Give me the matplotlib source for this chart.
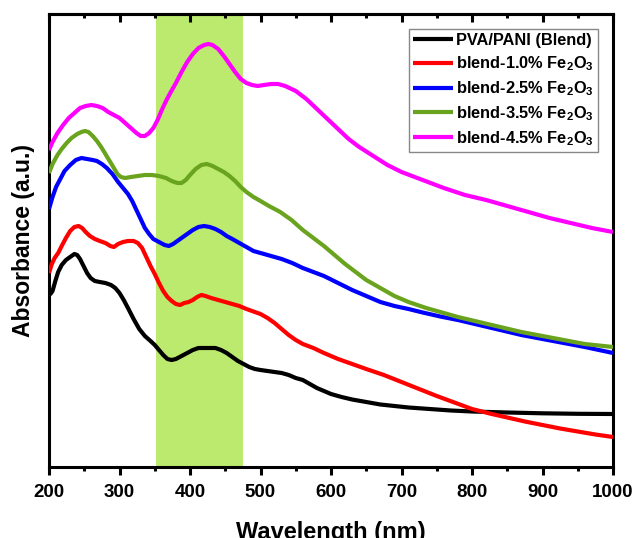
import matplotlib
matplotlib.use("Agg")
import matplotlib.pyplot as plt
from matplotlib.ticker import MultipleLocator, NullFormatter

plt.rcParams['font.family'] = ['Liberation Sans', 'DejaVu Sans']
plt.rcParams['font.weight'] = 'bold'
plt.rcParams['mathtext.fontset'] = 'custom'
plt.rcParams['mathtext.rm'] = 'Liberation Sans:bold'
plt.rcParams['mathtext.bf'] = 'Liberation Sans:bold'
plt.rcParams['mathtext.default'] = 'bf'

# ---- data (wavelength in nm, absorbance in arbitrary units) ----
labels = ["PVA/PANI (Blend)", r"blend-1.0% Fe$_2$O$_3$", r"blend-2.5% Fe$_2$O$_3$",
          r"blend-3.5% Fe$_2$O$_3$", r"blend-4.5% Fe$_2$O$_3$"]
colors = ["#000000", "#ff0000", "#0000ff", "#6aa41e", "#ff00ff"]

black_x = [200, 202, 205, 209, 213, 218, 224, 230, 236, 240, 244, 249, 254, 259, 265, 272,
           280, 288, 294, 300, 306, 312, 320, 328, 336, 344, 350, 356, 362, 368, 374, 380,
           388, 396, 404, 412, 420, 428, 436, 444, 452, 460, 468, 476, 484, 492, 500, 510,
           520, 530, 540, 550, 560, 570, 580, 590, 600, 615, 630, 650, 670, 690, 710, 740,
           770, 800, 850, 900, 950, 1000]
black_y = [1.75, 1.73, 1.76, 1.86, 1.95, 2.02, 2.07, 2.10, 2.13, 2.12, 2.08, 2.01, 1.94, 1.89,
           1.86, 1.85, 1.84, 1.82, 1.79, 1.74, 1.67, 1.59, 1.48, 1.38, 1.31, 1.26, 1.22, 1.17,
           1.12, 1.08, 1.07, 1.08, 1.11, 1.14, 1.17, 1.19, 1.19, 1.19, 1.19, 1.17, 1.14, 1.10,
           1.06, 1.03, 1.00, 0.98, 0.97, 0.96, 0.95, 0.94, 0.92, 0.89, 0.87, 0.83, 0.79, 0.76,
           0.73, 0.70, 0.675, 0.65, 0.625, 0.61, 0.595, 0.58, 0.565, 0.555, 0.545, 0.537,
           0.532, 0.53]

red_x = [200, 204, 208, 213, 218, 224, 230, 236, 242, 247, 252, 258, 265, 272, 280, 287, 292,
         298, 305, 312, 320, 326, 332, 338, 344, 350, 356, 362, 368, 374, 380, 386, 392, 398,
         404, 410, 416, 422, 430, 440, 450, 460, 470, 480, 490, 500, 510, 520, 530, 540, 550,
         560, 575, 590, 610, 630, 650, 675, 700, 725, 750, 775, 800, 825, 850, 875, 900, 925,
         950, 975, 1000]
red_y = [1.94, 2.03, 2.09, 2.14, 2.21, 2.29, 2.36, 2.40, 2.41, 2.39, 2.35, 2.31, 2.28, 2.26,
         2.24, 2.21, 2.20, 2.23, 2.25, 2.26, 2.26, 2.24, 2.19, 2.10, 2.01, 1.93, 1.84, 1.76,
         1.70, 1.66, 1.63, 1.62, 1.64, 1.65, 1.67, 1.70, 1.72, 1.71, 1.69, 1.67, 1.65, 1.63,
         1.61, 1.58, 1.555, 1.53, 1.49, 1.44, 1.38, 1.32, 1.27, 1.23, 1.19, 1.14, 1.08, 1.03,
         0.98, 0.92, 0.85, 0.78, 0.71, 0.645, 0.58, 0.535, 0.495, 0.455, 0.42, 0.385, 0.355,
         0.325, 0.30]

blue_x = [200, 205, 210, 216, 222, 230, 238, 246, 254, 262, 268, 275, 282, 290, 298, 305, 312,
          318, 324, 330, 336, 342, 348, 356, 364, 370, 376, 382, 388, 396, 404, 412, 420, 428,
          436, 444, 452, 460, 470, 480, 490, 500, 515, 530, 545, 560, 575, 590, 610, 630, 650,
          670, 690, 710, 730, 755, 780, 810, 840, 870, 900, 930, 960, 1000]
blue_y = [2.58, 2.70, 2.80, 2.88, 2.96, 3.02, 3.07, 3.09, 3.08, 3.07, 3.06, 3.03, 2.99, 2.93,
          2.85, 2.79, 2.73, 2.66, 2.57, 2.48, 2.39, 2.33, 2.28, 2.25, 2.22, 2.21, 2.23, 2.26,
          2.29, 2.33, 2.37, 2.40, 2.41, 2.40, 2.38, 2.35, 2.31, 2.28, 2.24, 2.20, 2.16, 2.14,
          2.11, 2.08, 2.04, 1.99, 1.95, 1.91, 1.84, 1.77, 1.71, 1.65, 1.61, 1.58, 1.545, 1.505,
          1.47, 1.42, 1.37, 1.32, 1.28, 1.24, 1.20, 1.14]

green_x = [200, 205, 212, 218, 225, 232, 240, 246, 251, 256, 262, 268, 274, 280, 286, 292, 297,
           302, 308, 316, 326, 336, 346, 356, 366, 374, 382, 388, 394, 400, 408, 416, 424, 432,
           440, 448, 456, 464, 472, 480, 490, 500, 512, 528, 544, 560, 575, 590, 605, 620, 635,
           650, 670, 690, 710, 735, 755, 780, 810, 840, 870, 900, 930, 960, 1000]
green_y = [2.94, 3.03, 3.12, 3.18, 3.24, 3.29, 3.33, 3.35, 3.36, 3.35, 3.31, 3.26, 3.20, 3.13,
           3.06, 2.99, 2.93, 2.90, 2.89, 2.90, 2.91, 2.92, 2.92, 2.91, 2.89, 2.86, 2.84, 2.84,
           2.87, 2.92, 2.98, 3.02, 3.03, 3.01, 2.98, 2.95, 2.91, 2.86, 2.80, 2.75, 2.70, 2.66,
           2.61, 2.55, 2.47, 2.37, 2.29, 2.21, 2.12, 2.03, 1.95, 1.87, 1.79, 1.71, 1.65, 1.59,
           1.55, 1.50, 1.45, 1.40, 1.35, 1.31, 1.27, 1.23, 1.20]

magenta_x = [200, 205, 212, 220, 228, 236, 244, 252, 260, 268, 276, 284, 292, 300, 308, 316,
             324, 330, 336, 342, 348, 354, 360, 366, 372, 380, 388, 396, 404, 412, 420, 426,
             432, 440, 448, 456, 464, 472, 480, 488, 496, 505, 515, 525, 535, 550, 565, 580,
             595, 610, 625, 640, 660, 680, 700, 730, 760, 790, 820, 850, 880, 910, 940, 970,
             1000]
magenta_y = [3.17, 3.25, 3.34, 3.42, 3.49, 3.54, 3.59, 3.61, 3.62, 3.61, 3.59, 3.55, 3.52,
             3.49, 3.44, 3.39, 3.34, 3.31, 3.31, 3.34, 3.39, 3.47, 3.57, 3.66, 3.74, 3.84,
             3.95, 4.05, 4.13, 4.19, 4.22, 4.23, 4.22, 4.18, 4.11, 4.03, 3.95, 3.88, 3.84,
             3.82, 3.81, 3.82, 3.83, 3.83, 3.81, 3.76, 3.68, 3.58, 3.48, 3.38, 3.28, 3.20,
             3.11, 3.02, 2.95, 2.87, 2.79, 2.72, 2.67, 2.61, 2.55, 2.49, 2.44, 2.39, 2.35]

band = [352, 475]
xticks = [200, 300, 400, 500, 600, 700, 800, 900, 1000]

series = [(black_x, black_y), (red_x, red_y), (blue_x, blue_y),
          (green_x, green_y), (magenta_x, magenta_y)]

fig = plt.figure(figsize=(6.36, 5.38), dpi=100)
ax = fig.add_axes([49/636, 1-467/538, (613-49)/636, (467-14)/538])

ax.axvspan(band[0], band[1], color="#bbea6f", lw=0, zorder=0)

for (x, y), c, lab in zip(series, colors, labels):
    ax.plot(x, y, color=c, lw=3.0, label=lab, solid_joinstyle='round',
            solid_capstyle='butt', zorder=3)

ax.set_xlim(200, 1000)
ax.set_ylim(0, 4.53)
ax.set_xticks(xticks)
ax.xaxis.set_minor_locator(MultipleLocator(50))
ax.set_yticks([])
ax.tick_params(axis='x', which='major', direction='out', length=5.5, width=2.2,
               labelsize=13.5, pad=7)
ax.tick_params(axis='x', which='minor', direction='out', length=3, width=2.2)
for lab in ax.get_xticklabels():
    lab.set_fontweight('bold')

top = ax.secondary_xaxis('top')
top.set_xticks(xticks)
top.xaxis.set_minor_locator(MultipleLocator(50))
top.xaxis.set_major_formatter(NullFormatter())
top.tick_params(axis='x', which='major', direction='in', length=5.5, width=2.2)
top.tick_params(axis='x', which='minor', direction='in', length=3, width=2.2)
top.spines['top'].set_linewidth(2.2)

for s in ax.spines.values():
    s.set_linewidth(2.2)

ax.set_xlabel("Wavelength (nm)", fontsize=17, fontweight='bold', labelpad=14)
ax.set_ylabel("Absorbance (a.u.)", fontsize=16.5, fontweight='bold', labelpad=10)

leg = ax.legend(loc='upper right', bbox_to_anchor=(598/636, 1-29/538),
                bbox_transform=fig.transFigure, fontsize=11.8, frameon=True,
                fancybox=False, edgecolor='#888888', framealpha=1,
                handlelength=2.4, handletextpad=0.2, labelspacing=0.38,
                borderpad=0.25, borderaxespad=0)
leg.get_frame().set_linewidth(1.0)
for t in leg.get_texts():
    t.set_fontweight('bold')

fig.savefig("out.png", dpi=100)
